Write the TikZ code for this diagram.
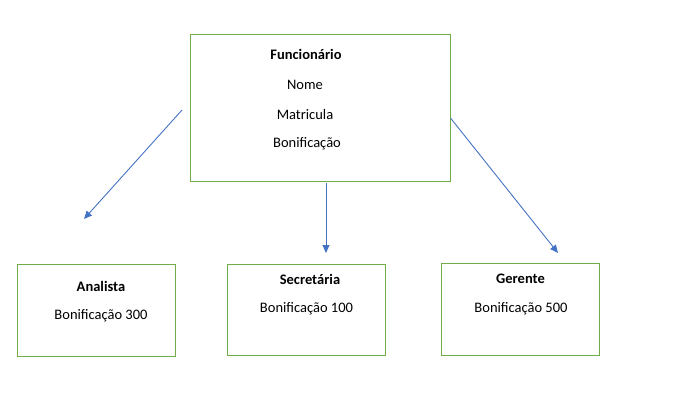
\documentclass[tikz,border=0pt]{standalone}
\usepackage{fontspec}
\setmainfont{Carlito}
\usetikzlibrary{arrows.meta}
\definecolor{boxgreen}{RGB}{112,173,71}
\definecolor{arrowblue}{RGB}{68,114,196}
\begin{document}
\begin{tikzpicture}[x=1pt,y=-1pt,
  box/.style={draw=boxgreen,line width=1pt,inner sep=0pt},
  lbl/.style={inner sep=0pt,font=\fontsize{14.5}{16}\selectfont},
  blbl/.style={lbl,font=\fontsize{14.5}{16}\selectfont\bfseries},
  conn/.style={draw=arrowblue,line width=0.9pt,-{Triangle[length=8pt,width=7pt]}}]
\useasboundingbox (0,0) rectangle (687,406);
% boxes
\node[box,minimum width=260.5pt,minimum height=147pt] (func) at (320.3,108.2) {};
\node[box,minimum width=158.4pt,minimum height=91.7pt] (anal) at (96.5,310.2) {};
\node[box,minimum width=158.4pt,minimum height=91.7pt] (secr) at (306.5,309.9) {};
\node[box,minimum width=157.6pt,minimum height=91.7pt] (gere) at (520.5,309.2) {};
% texts
\node[blbl] (tfunc) at (306,54) {Funcionário};
\node[lbl] (tnome) at (305,85) {Nome};
\node[lbl] (tmat) at (305,115) {Matricula};
\node[lbl] (tbon) at (307,144) {Bonificação};
\node[blbl] (tanal) at (101,286) {Analista};
\node[lbl] (tanalb) at (101,316) {Bonificação 300};
\node[blbl] (tsecr) at (310,279) {Secretária};
\node[lbl] (tsecrb) at (306.5,309) {Bonificação 100};
\node[blbl] (tgere) at (520.5,279) {Gerente};
\node[lbl] (tgereb) at (521,309) {Bonificação 500};
% connectors
\coordinate (s1) at (182,110);
\coordinate (e1) at (84,219);
\coordinate (s2) at (326,182.5);
\coordinate (e2) at (326,253);
\coordinate (s3) at (450.5,118);
\coordinate (e3) at (558,253);
\draw[conn] (s1) -- (e1);
\draw[conn] (s2) -- (e2);
\draw[conn] (s3) -- (e3);
\end{tikzpicture}
\end{document}
